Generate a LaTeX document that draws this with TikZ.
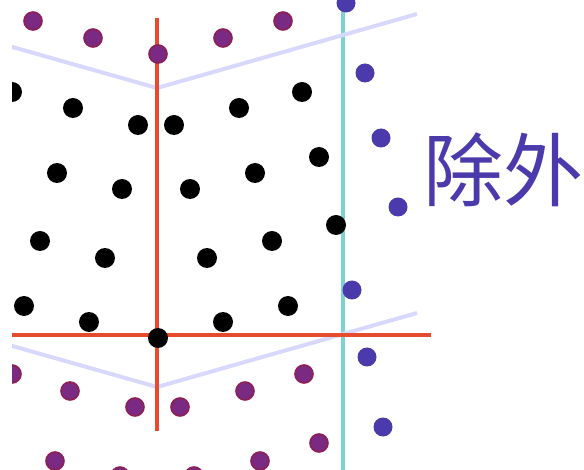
\documentclass[tikz,border=0pt]{standalone}
\usepackage{fontspec}
\newfontfamily\cjk{Noto Sans CJK SC}
\definecolor{maroonfill}{RGB}{122,42,130}
\definecolor{maroonedge}{RGB}{140,32,82}
\definecolor{bluedot}{RGB}{75,58,171}
\definecolor{tealline}{RGB}{122,212,212}
\definecolor{lav}{RGB}{216,216,252}
\definecolor{redline}{RGB}{230,75,45}
\begin{document}
\begin{tikzpicture}[x=1pt,y=-1pt,
  pdot/.style={circle,fill=maroonfill,draw=maroonedge,line width=1.6pt,minimum size=18pt,inner sep=0pt},
  bdot/.style={circle,fill=black,minimum size=20pt,inner sep=0pt},
  udot/.style={circle,fill=bluedot,minimum size=19pt,inner sep=0pt},
  tealstyle/.style={draw=tealline,line width=4pt},
  lavstyle/.style={draw=lav,line width=4pt},
  redstyle/.style={draw=redline,line width=4pt},
  lbl/.style={text=bluedot,font=\cjk\fontsize{80}{80}\selectfont,inner sep=0pt}]
\useasboundingbox (0,0) rectangle (584,470);
\begin{scope}
\clip (12,0) rectangle (584,470);
% coordinates for lines
\coordinate (t0) at (343,8);
\coordinate (t1) at (343,475);
\coordinate (la) at (0,43.5);
\coordinate (lb) at (157,88);
\coordinate (lc) at (417,14);
\coordinate (ld) at (0,342.5);
\coordinate (le) at (157,387);
\coordinate (lf) at (417,313);
\coordinate (rv0) at (157,18);
\coordinate (rv1) at (157,431);
\coordinate (rh0) at (0,335);
\coordinate (rh1) at (431,335);
\path[tealstyle] (t0) -- (t1);
\path[lavstyle] (la) -- (lb) -- (lc);
\path[lavstyle] (ld) -- (le) -- (lf);
\path[redstyle] (rv0) -- (rv1);
\path[redstyle] (rh0) -- (rh1);
% maroon dots
\foreach \n/\x/\y in {p1/33/21,p2/93/38,p3/158/54,p4/223/38,p5/283/21,
  p6/12/374,p7/70/391,p8/135/407,p9/180/407,p10/245/391,p11/304/374,
  p12/55/461,p13/120/476,p14/194/476,p15/260/461,p16/319/443}
  \node[pdot] (\n) at (\x,\y) {};
% black dots
\foreach \n/\x/\y in {b1/12/92,b2/73/108,b3/138/125,b4/174/125,b5/239/108,b6/302/92,
  b7/57/173,b8/122/189,b9/190/189,b10/255/173,b11/319/157,
  b12/40/241,b13/105/258,b14/207/258,b15/272/241,b16/336/225,
  b17/24/306,b18/89/322,b19/223/322,b20/288/306,b21/158/338}
  \node[bdot] (\n) at (\x,\y) {};
% blue dots
\foreach \n/\x/\y in {u1/346/3,u2/365/73,u3/381/138,u4/398/207,
  u5/352/290,u6/367/357,u7/383/427}
  \node[udot] (\n) at (\x,\y) {};
\end{scope}
\node[lbl] (label) at (503.5,170) {除外};
\end{tikzpicture}
\end{document}
